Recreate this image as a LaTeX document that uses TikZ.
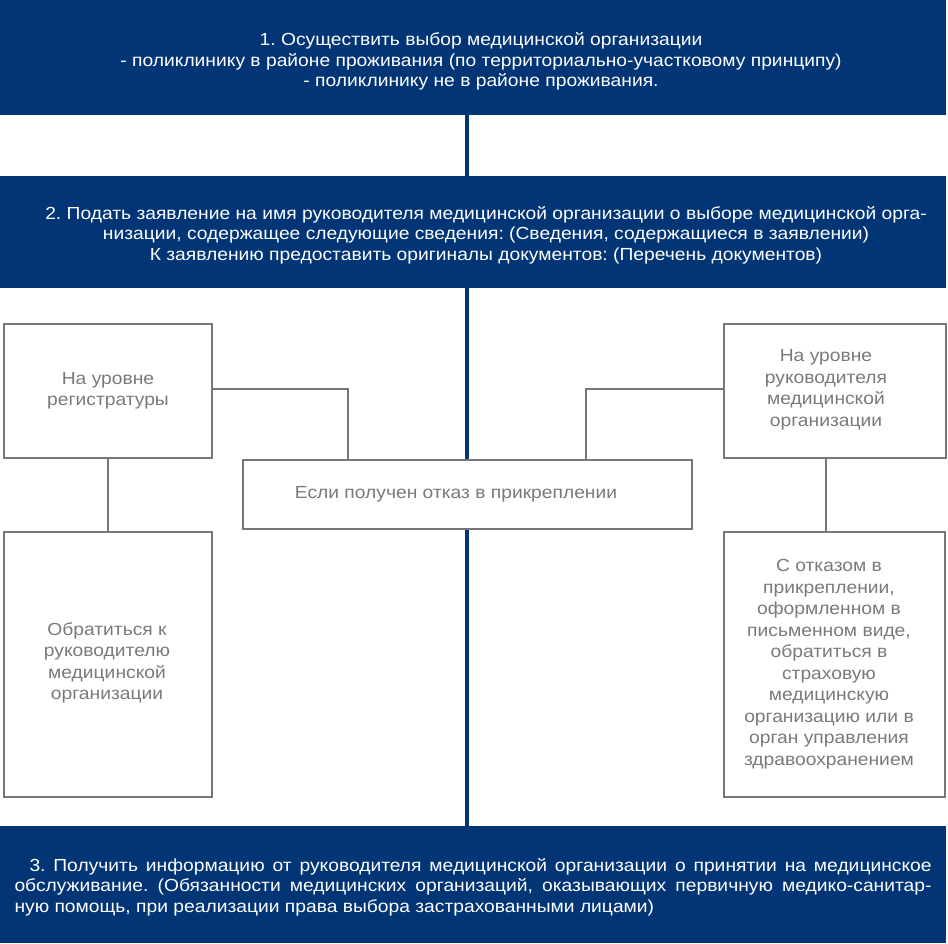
\documentclass[tikz,border=0pt]{standalone}
\usepackage{fontspec}
\setmainfont{Liberation Sans}
\newfontfamily\widesans[FakeStretch=1.1]{Liberation Sans}
\definecolor{navy}{RGB}{1,53,117}
\definecolor{grayline}{RGB}{119,119,119}
\definecolor{graytext}{RGB}{122,122,122}
\frenchspacing
\begin{document}
\begin{tikzpicture}[x=1pt,y=-1pt,
  bluebox/.style={draw=none,fill=navy,anchor=north west,inner sep=0pt},
  graybox/.style={draw=grayline,line width=2pt,fill=white,anchor=north west,inner sep=0pt},
  whitetxt/.style={text=white,font=\widesans\frenchspacing\fontsize{17.5}{20.5}\selectfont,align=center,inner sep=0pt},
  graytxt/.style={text=graytext,font=\widesans\frenchspacing\fontsize{17.5}{21.5}\selectfont,align=center,inner sep=0pt},
  conn/.style={draw=grayline,line width=2pt},
  spine/.style={draw=navy,line width=3.5pt}]
\useasboundingbox (0,0) rectangle (948,943);
% blue boxes
\node[bluebox,minimum width=946pt,minimum height=115pt] (b1) at (0,0) {};
\node[bluebox,minimum width=946pt,minimum height=112pt] (b2) at (0,176) {};
\node[bluebox,minimum width=946pt,minimum height=117pt] (b3) at (0,826) {};
% spine
\draw[spine] (467,115) coordinate (s1) -- (467,826) coordinate (s2);
% gray boxes
\node[graybox,minimum width=208pt,minimum height=134pt] (lt) at (3,323) {};
\node[graybox,minimum width=222pt,minimum height=134pt] (rt) at (723,323) {};
\node[graybox,minimum width=449pt,minimum height=69pt] (mid) at (242,459) {};
\node[graybox,minimum width=208pt,minimum height=265pt] (lb) at (3,531) {};
\node[graybox,minimum width=221pt,minimum height=265pt] (rb) at (723,531) {};
% connectors
\draw[conn] (lt.east |- 0,389) -| (mid.north -| 348,0);
\draw[conn] (rt.west |- 0,389) -| (mid.north -| 586,0);
\draw[conn] (lt.south -| 108,0) -- (lb.north -| 108,0);
\draw[conn] (rt.south -| 826,0) -- (rb.north -| 826,0);
% texts
\node[whitetxt] (t1) at (481,61.5) {1. Осуществить выбор медицинской организации\\
- поликлинику в районе проживания (по территориально-участковому принципу)\\
- поликлинику не в районе проживания.};
\node[whitetxt] (t2) at (486,235) {2. Подать заявление на имя руководителя медицинской организации о выборе медицинской орга-\\
низации, содержащее следующие сведения: (Сведения, содержащиеся в заявлении)\\
К заявлению предоставить оригиналы документов: (Перечень документов)};
\node[whitetxt,align=left] (t3) at (473,887) {\hspace*{15pt}\makebox[902pt][s]{3. Получить информацию от руководителя медицинской организации о принятии на медицинское}\\
\makebox[917pt][s]{обслуживание. (Обязанности медицинских организаций, оказывающих первичную медико-санитар-}\\
ную помощь, при реализации права выбора застрахованными лицами)};
\node[graytxt] (tlt) at (108,391) {На уровне\\регистратуры};
\node[graytxt] (trt) at (826,390) {На уровне\\руководителя\\медицинской\\организации};
\node[graytxt] (tmid) at (456,494) {Если получен отказ в прикреплении};
\node[graytxt] (tlb) at (107,663) {Обратиться к\\руководителю\\медицинской\\организации};
\node[graytxt] (trb) at (829,664) {С отказом в\\прикреплении,\\оформленном в\\письменном виде,\\обратиться в\\страховую\\медицинскую\\организацию или в\\орган управления\\здравоохранением};
\end{tikzpicture}
\end{document}
